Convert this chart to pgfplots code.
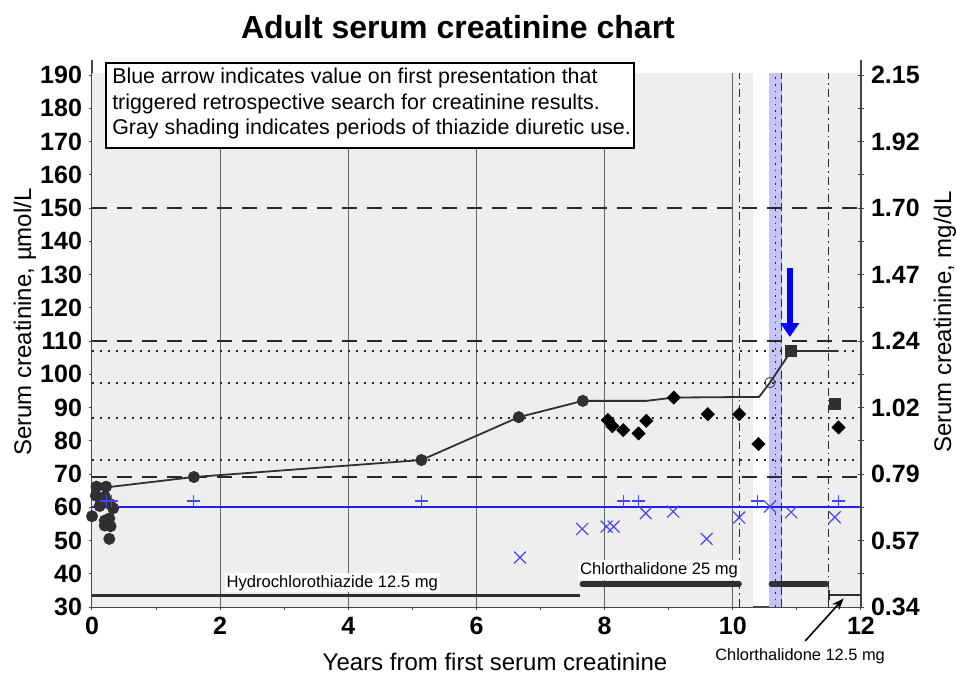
\documentclass[border=0pt]{standalone}
\usepackage{pgfplots}
\pgfplotsset{compat=1.18}
\usepackage{fontspec}
\setmainfont{Liberation Sans}
\usetikzlibrary{arrows.meta}
\definecolor{bggray}{RGB}{238,238,238}
\definecolor{bandblue}{RGB}{196,196,248}
\definecolor{gridc}{RGB}{100,100,100}
\definecolor{dark}{RGB}{48,48,48}
\definecolor{refl}{RGB}{40,40,40}
\definecolor{lblue}{RGB}{30,30,255}
\definecolor{mblue}{RGB}{70,70,255}
\definecolor{axisgray}{RGB}{70,70,70}
\begin{document}
\begin{tikzpicture}
\pgfplotsset{
  common/.style={
    scale only axis, width=384.5pt, height=273.5pt,
    xmin=0, xmax=12, ymin=30, ymax=194.5,
    axis line style={draw=axisgray, line width=0.6pt, -},
    tick align=center, major tick length=3pt, minor tick length=3pt,
    tick style={draw=axisgray, line width=0.5pt},
    ticklabel style={font=\bfseries\fontsize{12.5}{14}\selectfont},
    /pgf/number format/assume math mode=true,
    clip=false,
  }
}
\begin{axis}[common,
  axis x line*=bottom, axis y line*=left,
  xtick={0,2,...,12}, minor xtick={1,3,...,11},
  ytick={30,40,...,190},
]
% shading
\addplot[draw=none, fill=bggray] coordinates {(0,30)(0,190.5)(10.31,190.5)(10.31,30)};
\addplot[draw=none, fill=bggray] coordinates {(10.77,30)(10.77,190.5)(12,190.5)(12,30)};
\addplot[draw=none, fill=bandblue] coordinates {(10.56,30)(10.56,190.5)(10.77,190.5)(10.77,30)};
% vertical grid
\addplot[gridc, line width=0.5pt] coordinates {(2,30)(2,190.5)};
\addplot[gridc, line width=0.5pt] coordinates {(4,30)(4,190.5)};
\addplot[gridc, line width=0.5pt] coordinates {(6,30)(6,190.5)};
\addplot[gridc, line width=0.5pt] coordinates {(8,30)(8,190.5)};
\addplot[gridc, line width=0.5pt] coordinates {(10,30)(10,190.5)};
% dash-dot verticals
\addplot[refl, line width=0.5pt, dash pattern=on 4pt off 2pt on 0.8pt off 2pt] coordinates {(10.11,30)(10.11,190.5)};
\addplot[refl, line width=0.5pt, dash pattern=on 4pt off 2pt on 0.8pt off 2pt] coordinates {(11.5,30)(11.5,190.5)};
\addplot[refl, line width=0.6pt, dash pattern=on 0.8pt off 2.5pt] coordinates {(10.66,30)(10.66,190.5)};
\addplot[refl, line width=0.5pt, dash pattern=on 4pt off 2pt] coordinates {(10.76,30)(10.76,190.5)};
% horizontal reference lines
\addplot[refl, line width=0.9pt, dash pattern=on 7.5pt off 5pt] coordinates {(0,150)(12,150)};
\addplot[refl, line width=0.9pt, dash pattern=on 7.5pt off 5pt] coordinates {(0,110)(12,110)};
\addplot[refl, line width=0.9pt, dash pattern=on 7.5pt off 5pt] coordinates {(0,69)(12,69)};
\addplot[refl, line width=0.9pt, dash pattern=on 1pt off 3pt] coordinates {(0,107)(12,107)};
\addplot[refl, line width=0.9pt, dash pattern=on 1pt off 3pt] coordinates {(0,97.4)(12,97.4)};
\addplot[refl, line width=0.9pt, dash pattern=on 1pt off 3pt] coordinates {(0,86.8)(12,86.8)};
\addplot[refl, line width=0.9pt, dash pattern=on 1pt off 3pt] coordinates {(0,74.2)(12,74.2)};
\addplot[draw=lblue, line width=0.9pt] coordinates {(0,60)(12,60)};
% trend line
\addplot[dark, line width=0.9pt] coordinates {(0.23,66)(1.59,69.1)(5.14,74.2)(6.66,87.1)(7.66,92)(8.65,92)(9.08,93)(10.41,93.2)(10.58,97.5)(10.91,107)(11.65,107)};
% circles
\addplot[only marks, mark=*, mark size=2.8pt, mark options={draw=dark, fill=dark}] coordinates {
(0.0,57.3)(0.07,66.2)(0.22,66.2)(0.06,63.5)(0.2,63.2)(0.12,60.4)(0.28,61)(0.33,59.7)
(0.2,56)(0.27,56.6)(0.2,54.5)(0.29,54.3)(0.27,50.5)
(1.59,69.1)(5.14,74.2)(6.66,87.1)(7.66,92)};
% diamonds
\addplot[only marks, mark=square*, mark size=2.3pt, mark options={rotate=45, draw=black, fill=black}] coordinates {
(8.05,86.2)(8.12,84.4)(8.29,83.2)(8.53,82.2)(8.65,86)(9.08,93)(9.61,88)(10.1,88)(10.4,79)(11.65,84)};
% squares
\addplot[only marks, mark=square*, mark size=2.7pt, mark options={draw=dark, fill=dark}] coordinates {(10.91,107)(11.59,91)};
% open circle
\addplot[only marks, mark=o, mark size=2.6pt, mark options={draw=dark, line width=0.4pt}] coordinates {(10.58,97.5)};
% blue plus
\addplot[only marks, mark=+, mark size=3.2pt, mark options={draw=mblue, line width=0.6pt}] coordinates {
(0.23,61.9)(0.31,61.9)(1.59,61.9)(5.14,61.9)(8.29,61.9)(8.53,61.9)(10.39,61.9)(11.65,61.9)};
% blue x
\addplot[only marks, mark=x, mark size=4.2pt, mark options={draw=mblue, line width=0.6pt}] coordinates {
(6.68,44.9)(7.65,53.5)(8.03,54.2)(8.14,54.2)(8.64,58.2)(9.07,58.7)(9.59,50.5)(10.1,56.9)(10.58,60.2)(10.91,58.5)(11.59,57)};
% medication bars
\addplot[dark, line width=1.5pt] coordinates {(0,33.6)(7.62,33.6)};
\addplot[dark, line width=2.6pt, line cap=round] coordinates {(7.65,36.9)(10.1,36.9)};
\addplot[dark, line width=2.6pt, line cap=round] coordinates {(10.6,36.9)(11.46,36.9)};
\addplot[dark, line width=1.2pt] coordinates {(11.5,33.6)(12,33.6)};
\addplot[dark, line width=0.6pt] coordinates {(11.5,32)(11.5,35)};
% labels
\node[fill=white, inner sep=1pt, font=\fontsize{8.3}{10}\selectfont] at (axis cs:3.75,37.3) {Hydrochlorothiazide 12.5 mg};
\node[fill=white, inner sep=1pt, font=\fontsize{8.3}{10}\selectfont] at (axis cs:8.85,41.1) {Chlorthalidone 25 mg};
\node[font=\fontsize{8.2}{10}\selectfont] at (axis cs:11.05,15.3) {Chlorthalidone 12.5 mg};
\draw[black, line width=0.8pt, -{Stealth[length=6pt,width=4.5pt]}] (axis cs:11.13,19.8) -- (axis cs:11.73,32.6);
% blue arrow
\draw[blue, line width=3pt, -{Triangle[length=7pt,width=9pt]}] (axis cs:10.89,132) -- (axis cs:10.89,111.2);
% text box
\draw[black, fill=white, line width=0.8pt] (axis cs:0.218,193.6) rectangle (axis cs:8.458,168.05);
\node[anchor=north west, inner sep=0pt, align=left, font=\fontsize{10.7}{12.75}\selectfont] at (axis cs:0.31,192.2) {Blue arrow indicates value on first presentation that\\triggered retrospective search for creatinine results.\\Gray shading indicates periods of thiazide diuretic use.};
% title and labels
\node[font=\bfseries\fontsize{16}{19}\selectfont] at (axis cs:5.711,204.4) {Adult serum creatinine chart};
\node[font=\fontsize{12}{14}\selectfont] at (axis cs:6.289,13.46) {Years from first serum creatinine};
\node[rotate=90, font=\fontsize{12}{14}\selectfont] at (axis cs:-1.0456,115.7) {Serum creatinine, µmol/L};
\node[rotate=90, font=\fontsize{12}{14}\selectfont] at (axis cs:13.31,115.7) {Serum creatinine, mg/dL};
\coordinate (bbsw) at (axis cs:-1.4356,10.15);
\coordinate (bbne) at (axis cs:13.483,212.56);
\end{axis}
\begin{axis}[common,
  axis y line*=right, axis x line=none,
  ytick={30,50,...,190},
  yticklabels={0.34,0.57,0.79,1.02,1.24,1.47,1.70,1.92,2.15},
  minor ytick={40,60,...,180},
]
\end{axis}
\pgfresetboundingbox
\path[use as bounding box] (bbsw) rectangle (bbne);
\end{tikzpicture}
\end{document}
